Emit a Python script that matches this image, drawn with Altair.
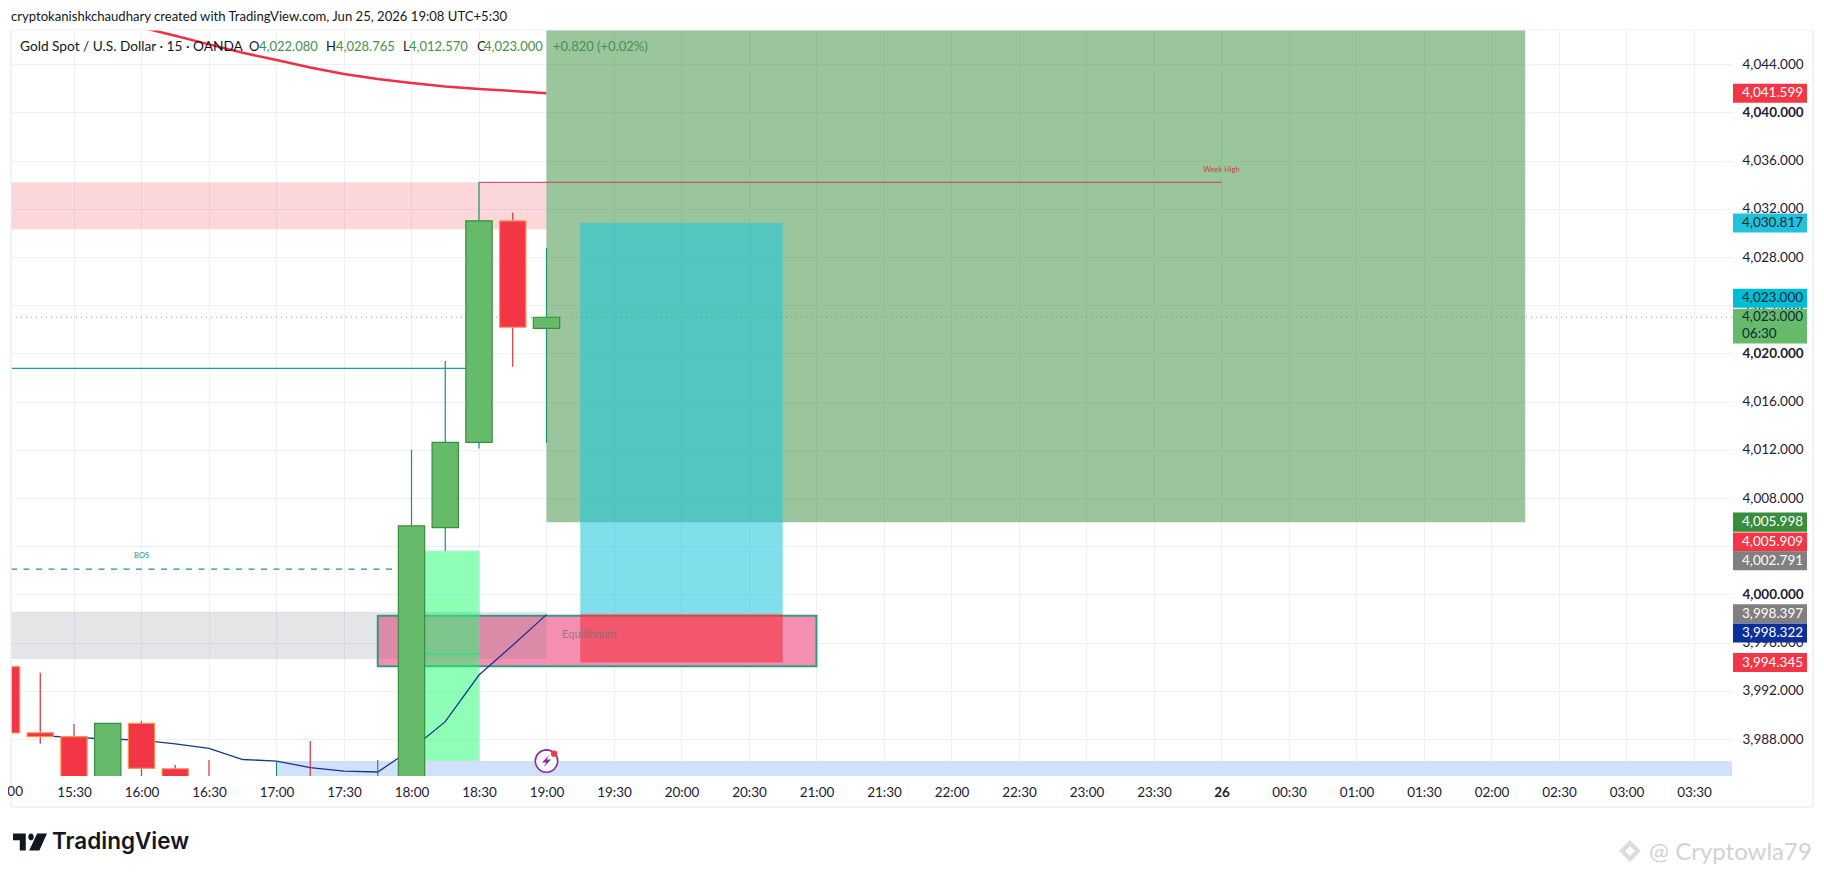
import altair as alt
import pandas as pd

# ---- data ----
# candles: minutes after 15:00
candle_t = [0, 15, 30, 45, 60, 75, 90, 120, 135, 165, 180, 195, 210, 225, 240]
candle_o = [3994.0, 3988.52, 3988.2, 3983.0, 3989.3, 3985.53, 3984.0, 3984.0, 3984.0, 3984.0, 3983.0, 4005.55, 4012.62, 4031.0, 4022.08]
candle_h = [3994.0, 3993.5, 3989.25, 3989.3, 3989.5, 3985.85, 3986.25, 3986.2, 3987.83, 3986.26, 4012.0, 4019.37, 4034.2, 4031.67, 4028.765]
candle_l = [3988.5, 3987.6, 3983.0, 3983.0, 3983.0, 3983.0, 3983.0, 3983.0, 3983.0, 3983.0, 3983.0, 4003.6, 4012.1, 4018.9, 4012.57]
candle_c = [3988.5, 3988.2, 3983.0, 3989.3, 3985.57, 3983.0, 3983.9, 3984.05, 3983.9, 3984.05, 4005.68, 4012.62, 4031.0, 4022.17, 4023.0]

ma_t = [15, 30, 45, 60, 75, 90, 105, 120, 135, 150, 165, 180, 195, 210, 225, 240]
navy_v = [3988.27, 3988.14, 3988.0, 3987.9, 3987.59, 3987.23, 3986.3, 3986.17, 3985.62, 3985.34, 3985.26, 3987.15, 3989.44, 3993.31, 3995.78, 3998.322]
red_t = [45, 60, 75, 90, 105, 120, 135, 150, 165, 180, 195, 210, 225, 240]
red_v = [4047.75, 4047.05, 4046.36, 4045.65, 4044.95, 4044.35, 4043.73, 4043.19, 4042.77, 4042.44, 4042.15, 4041.94, 4041.78, 4041.599]

y_ticks = [3988, 3992, 3996, 4000, 4004, 4008, 4012, 4016, 4020, 4024, 4028, 4032, 4036, 4040, 4044]
x_ticks = list(range(30, 751, 30))
x_labels = ["15:30", "16:00", "16:30", "17:00", "17:30", "18:00", "18:30", "19:00", "19:30", "20:00", "20:30", "21:00",
            "21:30", "22:00", "22:30", "23:00", "23:30", "26", "00:30", "01:00", "01:30", "02:00", "02:30", "03:00", "03:30"]

# price tags: shown value, where the tag sits, colour, text colour
tag_text = ["4,041.599", "4,030.817", "4,023.000", "4,005.998", "4,005.909", "4,002.791", "3,998.397", "3,998.322", "3,994.345"]
tag_pos = [4041.599, 4030.817, 4024.57, 4005.998, 4004.35, 4002.791, 3998.397, 3996.8, 3994.345]
tag_fill = ["#f23645", "#22c1dc", "#00bcd4", "#388e3c", "#f23645", "#808080", "#808080", "#0d2f9a", "#f23645"]
tag_ink = ["#ffffff", "#0f2a33", "#0f2a33", "#ffffff", "#ffffff", "#ffffff", "#ffffff", "#ffffff", "#ffffff"]

X0, X1, Y0, Y1 = 2.0, 766.9, 3984.93, 4046.84
FONT = "Lato"
W, H = 1721, 746
AX = 13.5

xs = alt.Scale(domain=[X0, X1], nice=False, zero=False)
ys = alt.Scale(domain=[Y0, Y1], nice=False, zero=False)
X = lambda f: alt.X(f, type="quantitative", scale=xs, title=None)
Y = lambda f: alt.Y(f, type="quantitative", scale=ys, title=None)


def zone(t0, t1, v0, v1, color, opacity=1.0, **kw):
    d = pd.DataFrame({"t0": [t0], "t1": [t1], "v0": [v0], "v1": [v1]})
    return alt.Chart(d).mark_rect(color=color, opacity=opacity, clip=True, **kw).encode(
        x=X("t0"), x2="t1", y=Y("v0"), y2="v1")


def hline(t0, t1, v, color, width=1.0, dash=None, opacity=1.0):
    d = pd.DataFrame({"t0": [t0], "t1": [t1], "v": [v]})
    kw = {"strokeDash": dash} if dash else {}
    return alt.Chart(d).mark_rule(color=color, strokeWidth=width, opacity=opacity, clip=True, **kw).encode(
        x=X("t0"), x2="t1", y=Y("v"))


def label(t, v, s, size, color, font=FONT, **kw):
    d = pd.DataFrame({"t": [t], "v": [v], "s": [s]})
    return alt.Chart(d).mark_text(fontSize=size, color=color, font=font, **kw).encode(
        x=X("t"), y=Y("v"), text="s")


def page_text(px, py, s, size, color, weight="normal", font=FONT, align="left"):
    d = pd.DataFrame({"s": [s]})
    return alt.Chart(d).mark_text(fontSize=size, color=color, font=font, align=align, baseline="middle",
                                  fontWeight=weight).encode(
        x=alt.value(px - 11), y=alt.value(py - 30), text="s")


# base with axes and grid
base = alt.Chart(pd.DataFrame({"t": [X0], "v": [Y0]})).mark_point(opacity=0).encode(
    x=alt.X("t:Q", scale=xs, title=None, axis=alt.Axis(
        values=x_ticks, grid=True, gridColor="#eef0f4", gridWidth=1, domain=False, ticks=False,
        labelFont=FONT, labelFontSize=AX, labelColor="#1c2030", labelPadding=9, labelOverlap=False,
        labelExpr="%s[(datum.value-30)/30]" % str(x_labels),
        labelFontWeight={"condition": {"test": "datum.value==540", "value": "bold"}, "value": "normal"})),
    y=alt.Y("v:Q", scale=ys, title=None, axis=alt.Axis(
        orient="right", values=y_ticks, grid=True, gridColor="#eef0f4", gridWidth=1, domain=False, ticks=False,
        labelFont=FONT, labelFontSize=AX, labelColor="#1c2030", labelPadding=10, labelOverlap=False,
        format=",.3f",
        labelFontWeight={"condition": {"test": "datum.value==4000||datum.value==4020||datum.value==4040", "value": "bold"}, "value": "normal"})),
)

layers = [base]

# zones
layers += [
    zone(120, X1, Y0, 3986.17, "#d1e1fb"),
    zone(X0, 240, 4030.3, 4034.2, "#f23645", 0.2),
    zone(165, 360, 3994.03, 3998.23, "#f48fb1", 1.0, stroke="#2f9c8a", strokeWidth=2),
    zone(X0, 240, 3994.64, 3998.56, "#787b86", 0.2),
    zone(180, 210, 3986.2, 4003.6, "#21ff73", 0.5, stroke="#5fe3ac", strokeWidth=1),
    hline(180, 210, 3995.05, "#3fd68f", 1.5),
    hline(180, 210, 3998.45, "#5fc79a", 1, [1, 2]),
    zone(240, 675, 4005.998, Y1, "#388e3c", 0.5),
    zone(255, 345, 3998.397, 4030.817, "#1bc6da", 0.56),
    zone(255, 345, 3994.345, 3998.397, "#f23645", 0.62),
]

# lines
layers += [
    hline(X0, X1, 4023.0, "#4a9a5a", 1, [1, 4], 0.75),
    hline(X0, 210, 4018.76, "#1f9ea6", 1.1),
    hline(X0, 180, 4002.1, "#1b9a7a", 1.1, [6, 6.5]),
    hline(210, 540, 4034.2, "#c8404c", 1),
    alt.Chart(pd.DataFrame({"t": red_t, "v": red_v})).mark_line(color="#ee3045", strokeWidth=2.5, clip=True).encode(x=X("t"), y=Y("v")),
    alt.Chart(pd.DataFrame({"t": ma_t, "v": navy_v})).mark_line(color="#14368f", strokeWidth=1.3, clip=True).encode(x=X("t"), y=Y("v")),
    label(540, 4035.2, "Week High", 7.5, "#d0404c"),
    label(60, 4003.2, "BOS", 7.5, "#1b9a7a"),
    label(259, 3996.63, "Equilibrium", 11, "#6f7380", opacity=0.75),
]

# candles
df = pd.DataFrame({"t": candle_t, "o": candle_o, "h": candle_h, "l": candle_l, "c": candle_c})
df["a"] = df.t - 5.85
df["b"] = df.t + 5.85
df["up"] = df.c >= df.o
wick_scale = alt.Scale(domain=[True, False], range=["#1b8f6f", "#d0343f"])
fill_scale = alt.Scale(domain=[True, False], range=["#66bb6a", "#f23645"])
stroke_scale = alt.Scale(domain=[True, False], range=["#388e3c", "#f7965a"])
layers += [
    alt.Chart(df).mark_rule(strokeWidth=1.2, clip=True).encode(
        x=X("t"), y=Y("l"), y2="h", color=alt.Color("up:N", scale=wick_scale, legend=None)),
    alt.Chart(df).mark_rect(strokeWidth=1.2, clip=True).encode(
        x=X("a"), x2="b", y=Y("o"), y2="c",
        fill=alt.Fill("up:N", scale=fill_scale, legend=None),
        stroke=alt.Stroke("up:N", scale=stroke_scale, legend=None)),
]

# lightning marker
layers += [
    alt.Chart(pd.DataFrame({"t": [240], "v": [3986.17]})).mark_point(
        shape="circle", size=500, fill="#ffffff", filled=True, stroke="#8e2a9c", strokeWidth=1.6, opacity=1).encode(x=X("t"), y=Y("v")),
    alt.Chart(pd.DataFrame({"t": [240], "v": [3986.17]})).mark_point(
        shape="M0.45,-1 L-0.75,0.25 L-0.05,0.25 L-0.45,1 L0.75,-0.25 L0.05,-0.25 Z", size=150, fill="#8e2a9c", filled=True, opacity=1).encode(x=X("t"), y=Y("v")),
    alt.Chart(pd.DataFrame({"t": [243.4], "v": [3986.78]})).mark_point(
        shape="circle", size=40, fill="#f23645", filled=True, opacity=1).encode(x=X("t"), y=Y("v")),
]

# price tags
tags = pd.DataFrame({"s": tag_text, "p": tag_pos, "f": tag_fill, "i": tag_ink})
tags["lo"] = tags.p - 0.79
tags["hi"] = tags.p + 0.79
layers += [
    alt.Chart(pd.DataFrame({"lo": [4020.82], "hi": [4023.68]})).mark_rect(color="#66bb6a").encode(
        x=alt.value(W + 1), x2=alt.value(W + 75), y=Y("lo"), y2="hi"),
    alt.Chart(tags).mark_rect().encode(
        x=alt.value(W + 1), x2=alt.value(W + 75), y=Y("lo"), y2="hi",
        fill=alt.Fill("f:N", scale=None)),
    alt.Chart(tags).mark_text(align="left", baseline="middle", font=FONT, fontSize=AX).encode(
        x=alt.value(W + 10), y=Y("p"), text="s", color=alt.Color("i:N", scale=None)),
    label(0, 4023.0, "4,023.000", AX, "#0f2a33", align="left", baseline="middle").encode(x=alt.value(W + 10)),
    label(0, 4021.65, "06:30", AX, "#0f2a33", align="left", baseline="middle").encode(x=alt.value(W + 10)),
]

# frame
layers += [
    alt.Chart(pd.DataFrame({"a": [0]})).mark_rule(color="#eceef2", strokeWidth=1.5).encode(x=alt.value(0), y=alt.value(0), y2=alt.value(777)),
    alt.Chart(pd.DataFrame({"a": [0]})).mark_rule(color="#eceef2", strokeWidth=1.5).encode(x=alt.value(1802), y=alt.value(0), y2=alt.value(777)),
    alt.Chart(pd.DataFrame({"a": [0]})).mark_rule(color="#eceef2", strokeWidth=1.5).encode(x=alt.value(0), x2=alt.value(1802), y=alt.value(777)),
    alt.Chart(pd.DataFrame({"a": [0]})).mark_rule(color="#f1f2f5", strokeWidth=1).encode(x=alt.value(0), x2=alt.value(1802), y=alt.value(0)),
]

# header and footer
GREEN = "#43914d"
INK = "#131722"
HD = 13
layers += [
    page_text(11, 17, "cryptokanishkchaudhary created with TradingView.com, Jun 25, 2026 19:08 UTC+5:30", 13.1, INK),
    page_text(20, 47, "Gold Spot / U.S. Dollar · 15 · OANDA", 13.7, INK),
    page_text(249, 47, "O", HD, INK), page_text(259, 47, "4,022.080", HD, GREEN),
    page_text(326, 47, "H", HD, INK), page_text(336, 47, "4,028.765", HD, GREEN),
    page_text(403, 47, "L", HD, INK), page_text(409, 47, "4,012.570", HD, GREEN),
    page_text(477, 47, "C", HD, INK), page_text(484, 47, "4,023.000", HD, GREEN),
    page_text(553, 47, "+0.820 (+0.02%)", HD, GREEN),
    page_text(23, 792, "00", AX, "#1c2030", align="right"),
    page_text(52, 842, "TradingView", 22.5, "#131722", weight=600, font="Inter"),
    page_text(1649, 853, "@ Cryptowla79", 24, "#d2d2d2", font="Lato"),
    alt.Chart(pd.DataFrame({"a": [0]})).mark_point(
        shape="M0,-1 L1,0 L0,1 L-1,0 Z M0,-.45 L-.45,0 L0,.45 L.45,0 Z",
        size=480, filled=True, fill="#dcdcdc", opacity=1).encode(x=alt.value(1630 - 11), y=alt.value(851 - 30)),
    alt.Chart(pd.DataFrame({"a": [0]})).mark_point(
        shape="M-1,-.5 H-.25 V.5 H-.6 V-.1 H-1 Z M-.1,-.3 A.16,.2 0 1 1 .22,-.3 A.16,.2 0 1 1 -.1,-.3 Z M.42,-.5 H1 L.55,.5 H-.05 Z",
        size=1156, filled=True, fill="#131722", opacity=1).encode(x=alt.value(30 - 11), y=alt.value(842 - 30)),
]

chart = alt.layer(*layers).resolve_scale(color="independent", fill="independent", stroke="independent").properties(
    width=W, height=H,
    padding={"left": 3, "top": 22, "right": 84, "bottom": 92},
    autosize=alt.AutoSizeParams(type="none"),
    background="#ffffff",
).configure_view(stroke=None)

chart.save("out.html", embed_options={"renderer": "svg", "actions": False})
